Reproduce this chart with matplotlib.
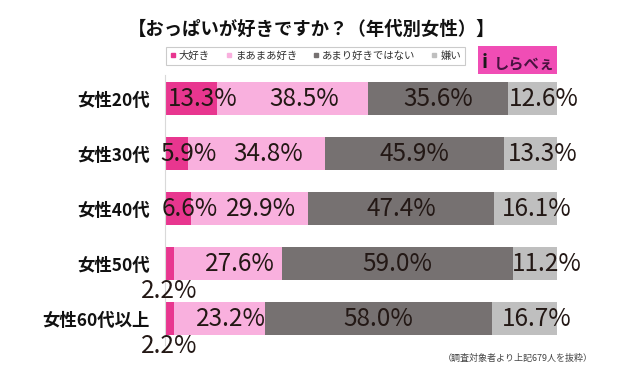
import matplotlib
matplotlib.use("Agg")
import matplotlib.pyplot as plt
import numpy as np
from matplotlib.lines import Line2D
from matplotlib.patches import Rectangle

plt.rcParams['font.family'] = ['Noto Sans CJK JP', 'DejaVu Sans']

# data
groups = ['女性20代', '女性30代', '女性40代', '女性50代', '女性60代以上']
series = ['大好き', 'まあまあ好き', 'あまり好きではない', '嫌い']
daisuki = [13.3, 5.9, 6.6, 2.2, 2.2]
maamaa = [38.5, 34.8, 29.9, 27.6, 23.2]
amari = [35.6, 45.9, 47.4, 59.0, 58.0]
kirai = [12.6, 13.3, 16.1, 11.2, 16.7]

colors = ['#E8368F', '#F9B0DE', '#767171', '#BFBFBF']
text_col = '#231815'

fig = plt.figure(figsize=(6.19, 3.78), dpi=100)
ax = fig.add_axes([165 / 619, 1 - 345 / 378, 392 / 619, 270 / 378])

y = np.arange(len(groups))
left = np.zeros(len(groups))
for vals, col, name in zip([daisuki, maamaa, amari, kirai], colors, series):
    vals = np.array(vals)
    ax.barh(y, vals, left=left, height=0.6, color=col, label=name)
    shift = 0 if col == '#767171' else 3
    for yi, l, v in zip(y, left, vals):
        if v < 3:
            ax.text(l + v / 2, yi + 0.5, f'{v:.1f}%', ha='center', va='center',
                    fontsize=17.5, color=text_col, clip_on=False)
        else:
            ax.text(l + v / 2 + shift, yi, f'{v:.1f}%', ha='center', va='center',
                    fontsize=17.5, color=text_col, clip_on=False)
    left += vals

ax.set_xlim(0, 100)
ax.set_ylim(4.48, -0.43)
ax.set_yticks(y)
ax.set_yticklabels(groups, fontsize=12.5, fontweight='bold', color='#111111')
ax.tick_params(axis='y', length=0, pad=11)
ax.set_xticks([])
for s in ['top', 'right', 'bottom']:
    ax.spines[s].set_visible(False)
ax.spines['left'].set_color('#D9D9D9')
ax.spines['left'].set_linewidth(0.8)

fig.text(312 / 619, 1 - 29 / 378, '【おっぱいが好きですか？（年代別女性）】',
         ha='center', va='center', fontsize=13.2, fontweight='bold', color='#111111')

handles = [Line2D([], [], marker='s', linestyle='none', markersize=3.5,
                  markerfacecolor=c, markeredgecolor=c) for c in colors]
leg = fig.legend(handles, series, loc='center', ncol=4,
                 bbox_to_anchor=(315.5 / 619, 1 - 56 / 378), fontsize=7.5,
                 frameon=True, fancybox=False, edgecolor='#BFBFBF',
                 handlelength=0.6, handletextpad=0.3, columnspacing=1.5,
                 borderpad=0.35)
leg.get_frame().set_linewidth(0.8)
for t in leg.get_texts():
    t.set_color('#333333')

# logo
fig.patches.append(Rectangle((478 / 619, 1 - 74 / 378), 79 / 619, 28 / 378,
                             transform=fig.transFigure, facecolor='#F04DB5',
                             edgecolor='none'))
fig.text(482 / 619, 1 - 62 / 378, 'i', ha='left', va='center', fontsize=14,
         fontweight='bold', color='#1a1a1a')
fig.text(524 / 619, 1 - 63 / 378, 'しらべぇ', ha='center', va='center',
         fontsize=11, fontweight='bold', color='#4a1240')

fig.text(593 / 619, 1 - 358 / 378, '（調査対象者より上記679人を抜粋）',
         ha='right', va='center', fontsize=6.5, color='#444444')

fig.savefig('out.png', dpi=100)
